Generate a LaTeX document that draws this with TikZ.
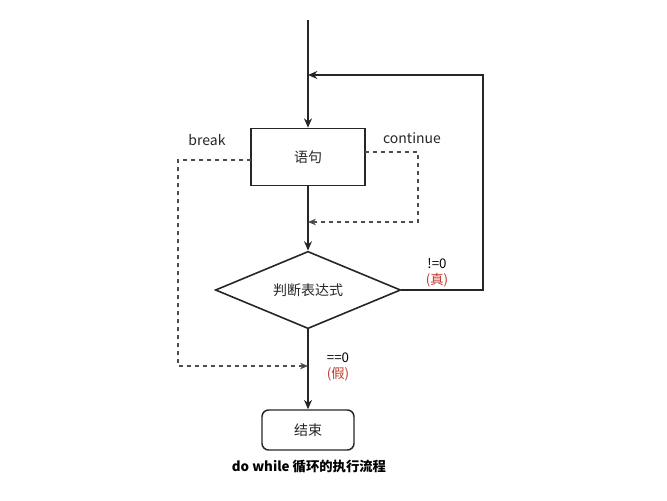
\documentclass[tikz,border=0pt]{standalone}
\usepackage{fontspec}
\setmainfont{Noto Sans CJK SC}
\usetikzlibrary{arrows.meta,shapes.geometric}
\definecolor{rougefaux}{HTML}{C0392B}
\tikzset{
  trait/.style={line width=1.1pt, draw=black!85},
  flux/.style={trait, -{Stealth[length=7pt,width=6pt]}},
  saut/.style={dashed, line width=0.8pt, draw=black!70, -{Stealth[length=6pt,width=5pt]}},
  boite/.style={draw=black!85, line width=1.2pt, minimum width=85.5pt, minimum height=42.75pt, inner sep=0pt},
  losange/.style={diamond, draw=black!85, line width=1.2pt, minimum width=139pt, minimum height=58pt, inner sep=0pt, aspect=2.4},
  fin/.style={draw=black!85, line width=1.1pt, rounded corners=5pt, minimum width=69pt, minimum height=30pt, inner sep=0pt},
  etiq/.style={font=\fontsize{10.5}{12}\selectfont, text=black!85},
  cond/.style={font=\fontsize{10}{11}\selectfont, align=center, inner sep=0pt}
}
\begin{document}
\begin{tikzpicture}[x=0.75pt, y=-0.75pt]
    \useasboundingbox (0,0) rectangle (667,500);

    % Blocs
    \node[boite, etiq] (yuju) at (308,157) {语句};
    \node[losange, etiq] (juge) at (308,290) {判断表达式};
    \node[fin, etiq] (jieshu) at (308,430) {结束};

    % Points de passage
    \coordinate (haut) at (308,20);
    \coordinate (jonction) at (308,75);
    \coordinate (retourbas) at (483,290);
    \coordinate (retourhaut) at (483,75);
    \coordinate (cont0) at (365,152);
    \coordinate (cont1) at (418,152);
    \coordinate (cont2) at (418,222);
    \coordinate (cont3) at (308,222);
    \coordinate (brk0) at (251,160);
    \coordinate (brk1) at (178,160);
    \coordinate (brk2) at (178,366);
    \coordinate (brk3) at (308,366);

    % Flux principal
    \draw[flux] (haut) -- (yuju);
    \draw[flux] (yuju) -- (juge);
    \draw[flux] (juge) -- (jieshu);

    % Retour (vrai)
    \draw[flux] (juge.east) -- (retourbas) -- (retourhaut) -- (jonction);

    % continue / break
    \draw[saut] (cont0) -- (cont1) -- (cont2) -- (cont3);
    \draw[saut] (brk0) -- (brk1) -- (brk2) -- (brk3);

    % Labels
    \node[etiq] (lbreak) at (207,140) {break};
    \node[etiq] (lcont) at (412,138) {continue};
    \node[cond] (vrai) at (437,273) {!=0\\[1pt]\textcolor{rougefaux}{(真)}};
    \node[cond] (faux) at (338,367) {==0\\[1pt]\textcolor{rougefaux}{(假)}};

    % Titre
    \node[font=\fontsize{10}{12}\selectfont\bfseries] (titre) at (309,467) {do while 循环的执行流程};

\end{tikzpicture}
\end{document}
